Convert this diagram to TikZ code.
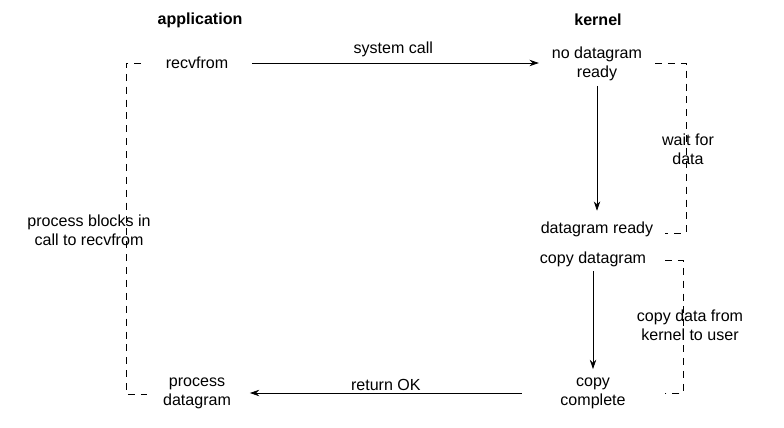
\documentclass[tikz,border=0pt]{standalone}
\usepackage{fontspec}
\setmainfont{Liberation Sans}
\usetikzlibrary{arrows.meta,positioning}

\begin{document}
\begin{tikzpicture}[x=0.03cm, y=-0.03cm, >={Stealth[length=8pt,width=5.5pt]},
  txt/.style={align=center, font=\fontsize{13.7}{16.2}\selectfont, inner sep=1pt},
  head/.style={txt, font=\fontsize{13.7}{16.2}\selectfont\bfseries},
  bracket/.style={dashed, dash pattern=on 6pt off 5pt, line width=0.6pt},
  flow/.style={->, line width=0.6pt}]
\useasboundingbox (0,0) rectangle (784,428);
\node [head] (app) at (200,20) {application};
\node [head] (kern) at (598,20) {kernel};
\node [txt] (recv) at (197,63) {recvfrom};
\node [txt] (nodg) at (597,64) {no datagram\\ready};
\node [txt] (dgready) at (597,229) {datagram ready};
\node [txt] (copydg) at (593,259) {copy datagram};
\node [txt] (cpdone) at (593,393) {copy\\complete};
\node [txt] (procdg) at (197,393) {process\\datagram};
\node [txt] (blocks) at (89,230) {process blocks in\\call to recvfrom};
\node [txt] (wait) at (688,149) {wait for\\data};
\node [txt] (cpdata) at (690,325) {copy data from\\kernel to user};
% brackets
\draw [bracket] (141,63) -- (126,63) -- (126,394) -- (147,394);
\draw [bracket] (655,63) -- (686,63) -- (686,233) -- (665,233);
\draw [bracket] (665,260) -- (683,260) -- (683,393) -- (665,393);
% flows
\draw [flow, shorten <=19pt, shorten >=10pt] (recv.east) -- (recv.east -| nodg.west)
  node [pos=0.51, above=4pt, txt] {system call};
\draw [flow, shorten <=3pt, shorten >=8pt] (nodg.south) -- (dgready.north);
\draw [flow, shorten <=3pt, shorten >=6pt] (copydg.south) -- (cpdone.north);
\draw [flow, shorten <=32pt, shorten >=15pt] (cpdone.west) -- (procdg.east)
  node [pos=0.53, above=1pt, txt] {return OK};
\end{tikzpicture}
\end{document}
